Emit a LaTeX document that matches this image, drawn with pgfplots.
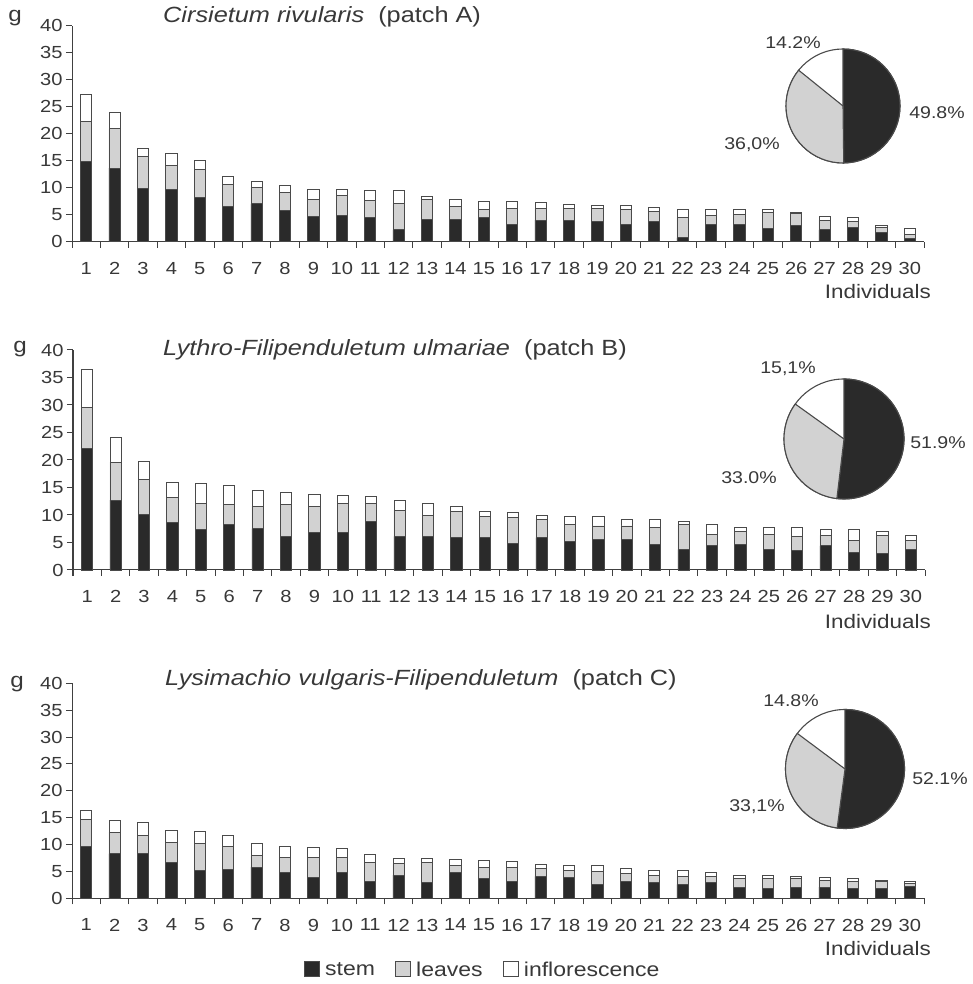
\documentclass[border=0pt]{standalone}
\usepackage{pgfplots}
\pgfplotsset{compat=1.18}
\usepackage{pgfplotstable}
\usepackage{fontspec}
\setmainfont{Liberation Sans}[FakeStretch=1.15]
\definecolor{stemc}{HTML}{2A2A2A}
\definecolor{leafc}{HTML}{D2D2D2}
\definecolor{edgec}{HTML}{4A4A4A}
\definecolor{txtc}{HTML}{383838}
\definecolor{axc}{HTML}{404040}

% segment heights (g): stem, leaves, inflorescence
\pgfplotstableread{
x stem leaves infl
1 14.8 7.4 5.1
2 13.6 7.3 3.0
3 9.9 5.8 1.6
4 9.6 4.5 2.2
5 8.1 5.2 1.8
6 6.5 4.1 1.5
7 7.0 3.1 1.0
8 5.7 3.4 1.3
9 4.7 3.1 1.8
10 4.9 3.7 1.0
11 4.4 3.2 1.8
12 2.2 4.9 2.3
13 4.2 3.6 0.5
14 4.2 2.4 1.2
15 4.4 1.5 1.5
16 3.2 2.9 1.3
17 4.0 2.1 1.1
18 4.0 2.1 0.8
19 3.7 2.5 0.5
20 3.2 2.7 0.8
21 3.7 1.9 0.8
22 0.7 3.7 1.5
23 3.2 1.7 1.0
24 3.2 1.9 0.8
25 2.5 2.9 0.5
26 3.0 2.2 0.2
27 2.2 1.8 0.6
28 2.7 1.0 0.7
29 1.7 0.9 0.4
30 0.6 0.7 1.2
}\tabA
\pgfplotstableread{
x stem leaves infl
1 22.1 7.5 6.8
2 12.7 6.9 4.5
3 10.1 6.4 3.2
4 8.6 4.5 2.9
5 7.3 4.8 3.7
6 8.3 3.6 3.4
7 7.5 4.1 2.9
8 6.1 5.8 2.2
9 6.8 4.8 2.2
10 6.8 5.3 1.5
11 8.8 3.3 1.2
12 6.1 4.8 1.7
13 6.1 3.8 2.2
14 5.9 4.7 1.0
15 5.9 3.8 1.0
16 4.9 4.6 1.0
17 5.9 3.3 0.7
18 5.2 3.0 1.5
19 5.6 2.4 1.7
20 5.6 2.4 1.2
21 4.7 3.1 1.4
22 3.7 4.5 0.6
23 4.4 2.1 1.7
24 4.7 2.3 0.8
25 3.7 2.8 1.3
26 3.5 2.6 1.7
27 4.4 1.9 1.0
28 3.2 2.2 1.9
29 3.0 3.3 0.7
30 3.7 1.7 0.9
}\tabB
\pgfplotstableread{
x stem leaves infl
1 9.6 5.0 1.8
2 8.3 4.0 2.1
3 8.3 3.4 2.4
4 6.6 3.8 2.3
5 5.1 5.1 2.2
6 5.3 4.4 2.0
7 5.8 2.1 2.3
8 4.8 2.8 2.1
9 3.8 3.8 1.8
10 4.8 2.8 1.6
11 3.1 3.6 1.5
12 4.3 2.1 1.0
13 2.9 3.8 0.7
14 4.8 1.3 1.1
15 3.6 2.1 1.3
16 3.1 2.6 1.1
17 4.1 1.5 0.7
18 3.8 1.4 0.9
19 2.6 2.4 1.1
20 3.1 1.5 1.0
21 2.9 1.4 0.8
22 2.6 1.5 1.0
23 2.9 1.2 0.7
24 2.1 1.5 0.7
25 1.9 1.7 0.7
26 2.1 1.5 0.5
27 2.1 1.2 0.5
28 1.9 1.2 0.5
29 1.9 1.3 0.1
30 2.2 0.5 0.4
}\tabC

\pgfplotsset{
  panel/.style={
    scale only axis, width=852pt,
    anchor=south west,
    ybar stacked, bar width=11.3pt,
    xmin=0.5, xmax=30.5, ymin=0, ymax=40,
    axis x line=bottom, axis y line=left,
    axis line style={-, draw=axc, line width=1pt},
    xtick={1,...,30}, minor xtick={0.5,1.5,...,30.5},
    ytick={0,5,...,40},
    major x tick style={draw=none},
    minor x tick style={draw=axc, line width=1pt},
    major y tick style={draw=axc, line width=1pt},
    tick align=outside, major tick length=6pt, minor tick length=6pt,
    /pgf/number format/assume math mode=true,
    tick label style={font=\fontsize{17.5}{17.5}\selectfont, text=txtc},
    xticklabel style={yshift=-11pt},
    every axis plot/.append style={draw=edgec, line width=0.9pt},
    clip=false,
  },
}
\newcommand{\pie}[5]{%
  \pgfmathsetmacro\aA{90-3.6*#4}%
  \pgfmathsetmacro\aB{\aA-3.6*#5}%
  \filldraw[fill=white, draw=edgec, line width=1.1pt] (#1,#2) circle (#3);
  \filldraw[fill=stemc, draw=edgec, line width=1.1pt] (#1,#2) -- ++(90:#3) arc (90:\aA:#3) -- cycle;
  \filldraw[fill=leafc, draw=edgec, line width=1.1pt] (#1,#2) -- ++(\aA:#3) arc (\aA:\aB:#3) -- cycle;
}
\tikzset{lab/.style={font=\fontsize{17}{17}\selectfont, text=txtc, inner sep=0pt},
  ttl/.style={font=\fontsize{22}{22}\selectfont, text=txtc, inner sep=0pt, anchor=west},
  gl/.style={font=\fontsize{21}{21}\selectfont, text=txtc, inner sep=0pt},
  ind/.style={font=\fontsize{19.5}{19.5}\selectfont, text=txtc, inner sep=0pt, anchor=east}}

\begin{document}
\begin{tikzpicture}[x=1pt,y=1pt]
\useasboundingbox (0,0) rectangle (972,984);

% Panel A
\begin{axis}[panel, at={(72pt,742.3pt)}, height=216pt]
\addplot[fill=stemc] table[x=x,y=stem]{\tabA};
\addplot[fill=leafc] table[x=x,y=leaves]{\tabA};
\addplot[fill=white] table[x=x,y=infl]{\tabA};
\end{axis}
\node[ttl] at (163,967) {\textit{Cirsietum rivularis}\ \ (patch A)};
\node[gl] at (15,966) {g};
\node[ind] at (931,692) {Individuals};
\pie{843}{878}{57}{49.8}{36.0}
\node[lab] at (793,941) {14.2\%};
\node[lab] at (937,871) {49.8\%};
\node[lab] at (752,839) {36,0\%};

% Panel B
\begin{axis}[panel, at={(73pt,414pt)}, height=220pt]
\addplot[fill=stemc] table[x=x,y=stem]{\tabB};
\addplot[fill=leafc] table[x=x,y=leaves]{\tabB};
\addplot[fill=white] table[x=x,y=infl]{\tabB};
\end{axis}
\node[ttl] at (163,634) {\textit{Lythro-Filipenduletum ulmariae}\ \ (patch B)};
\node[gl] at (20,635) {g};
\node[ind] at (931,362) {Individuals};
\pie{844}{545}{60}{51.9}{33.0}
\node[lab] at (788,615) {15,1\%};
\node[lab] at (938,541) {51.9\%};
\node[lab] at (749,506) {33.0\%};

% Panel C
\begin{axis}[panel, at={(72pt,85.7pt)}, height=215pt,
  legend columns=3,
  legend style={at={(0.482,-0.333)}, anchor=center, draw=none, fill=none,
    font=\fontsize{20}{20}\selectfont, text=txtc,
    /tikz/every even column/.append style={column sep=18pt}},
  legend image code/.code={\draw[#1, line width=0.9pt] (0pt,-7pt) rectangle (15pt,8pt);},
  legend cell align=left,
]
\addplot[fill=stemc] table[x=x,y=stem]{\tabC};
\addplot[fill=leafc] table[x=x,y=leaves]{\tabC};
\addplot[fill=white] table[x=x,y=infl]{\tabC};
\legend{\,stem, \,leaves, \,inflorescence}
\end{axis}
\node[ttl] at (165,304) {\textit{Lysimachio vulgaris-Filipenduletum}\ \ (patch C)};
\node[gl] at (17,300) {g};
\node[ind] at (931,35) {Individuals};
\pie{845}{215}{59.5}{52.1}{33.1}
\node[lab] at (791,283) {14.8\%};
\node[lab] at (940,205) {52.1\%};
\node[lab] at (757,177) {33,1\%};
\end{tikzpicture}
\end{document}
